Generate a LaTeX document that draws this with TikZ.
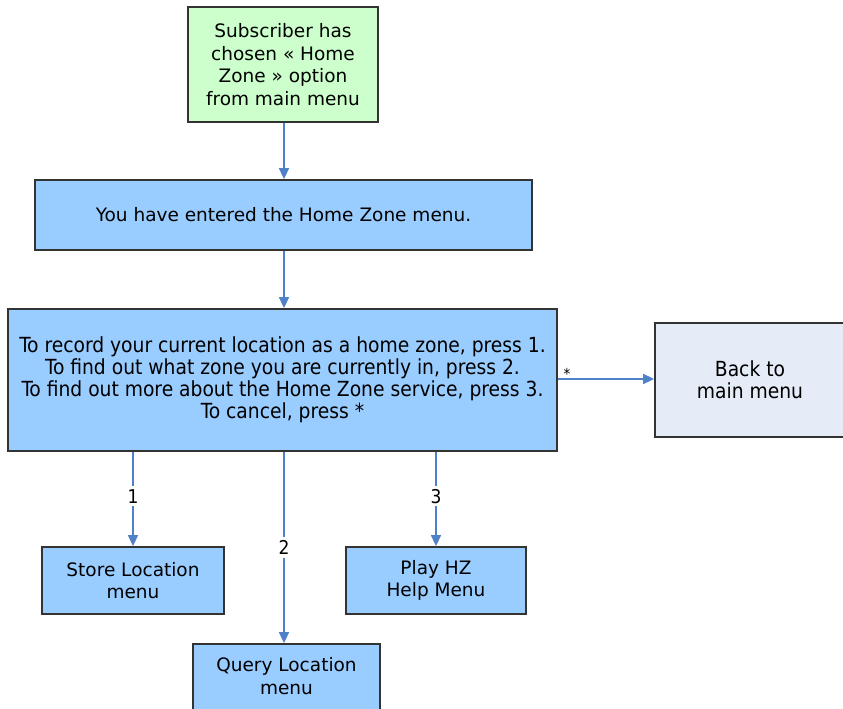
\documentclass[tikz,border=0pt]{standalone}
\usepackage{fontspec}
\setmainfont{DejaVu Sans}
\newfontfamily\condfont{DejaVu Sans Condensed}
\usetikzlibrary{arrows.meta}
\definecolor{boxblue}{HTML}{99CCFF}
\definecolor{boxgreen}{HTML}{CCFFCC}
\definecolor{boxgrey}{HTML}{E6ECF7}
\definecolor{edgegrey}{HTML}{333333}
\definecolor{arrowblue}{HTML}{4F81C8}
\tikzset{
  box/.style={draw=edgegrey, line width=1.8pt, align=center, inner sep=0pt, font=\fontsize{18.5}{22.5}\selectfont},
  condtext/.style={font=\condfont\fontsize{20.8}{22}\selectfont},
  flow/.style={draw=arrowblue, line width=1.6pt, -{Triangle[length=11pt,width=10pt]}},
  lbl/.style={fill=white, inner sep=3pt, font=\condfont\fontsize{19}{20}\selectfont}
}
\begin{document}
\begin{tikzpicture}[x=1pt,y=-1pt]
\useasboundingbox (0,0) rectangle (843,709);
\clip (0,0) rectangle (843,709);
\node[box, fill=boxgreen, minimum width=190pt, minimum height=115pt] (start) at (283,64.5)
  {Subscriber has\\chosen « Home\\Zone » option\\from main menu};
\node[box, fill=boxblue, minimum width=497pt, minimum height=70pt] (enter) at (283.5,215)
  {You have entered the Home Zone menu.};
\node[box, condtext, fill=boxblue, minimum width=549pt, minimum height=142pt] (menu) at (282.5,380)
  {To record your current location as a home zone, press 1.\\To find out what zone you are currently in, press 2.\\To find out more about the Home Zone service, press 3.\\To cancel, press *};
\node[box, condtext, fill=boxgrey, minimum width=190pt, minimum height=114pt] (back) at (750,380)
  {Back to\\main menu};
\node[box, fill=boxblue, minimum width=182pt, minimum height=67pt] (store) at (133,580.5)
  {Store Location\\menu};
\node[box, fill=boxblue, minimum width=180pt, minimum height=67pt] (play) at (436,580.5)
  {Play HZ\\Help Menu};
\node[box, fill=boxblue, minimum width=187pt, minimum height=70pt, text depth=6pt] (query) at (286.5,679)
  {Query Location\\menu};
\draw[flow] (start.south -| 284,0) -- (enter.north -| 284,0);
\draw[flow] (enter.south -| 284,0) -- (menu.north -| 284,0);
\draw[flow] (menu.south -| 133,0) -- node[lbl, pos=0.47] {1} (store.north -| 133,0);
\draw[flow] (menu.south -| 436,0) -- node[lbl, pos=0.47] {3} (play.north -| 436,0);
\draw[flow] (menu.south -| 284,0) -- node[lbl, pos=0.5] {2} (query.north -| 284,0);
\draw[flow] (menu.east |- 0,379) -- (back.west |- 0,379);
\node[font=\condfont\fontsize{15}{15}\selectfont, inner sep=0pt] (star) at (567,374) {*};
\end{tikzpicture}
\end{document}
